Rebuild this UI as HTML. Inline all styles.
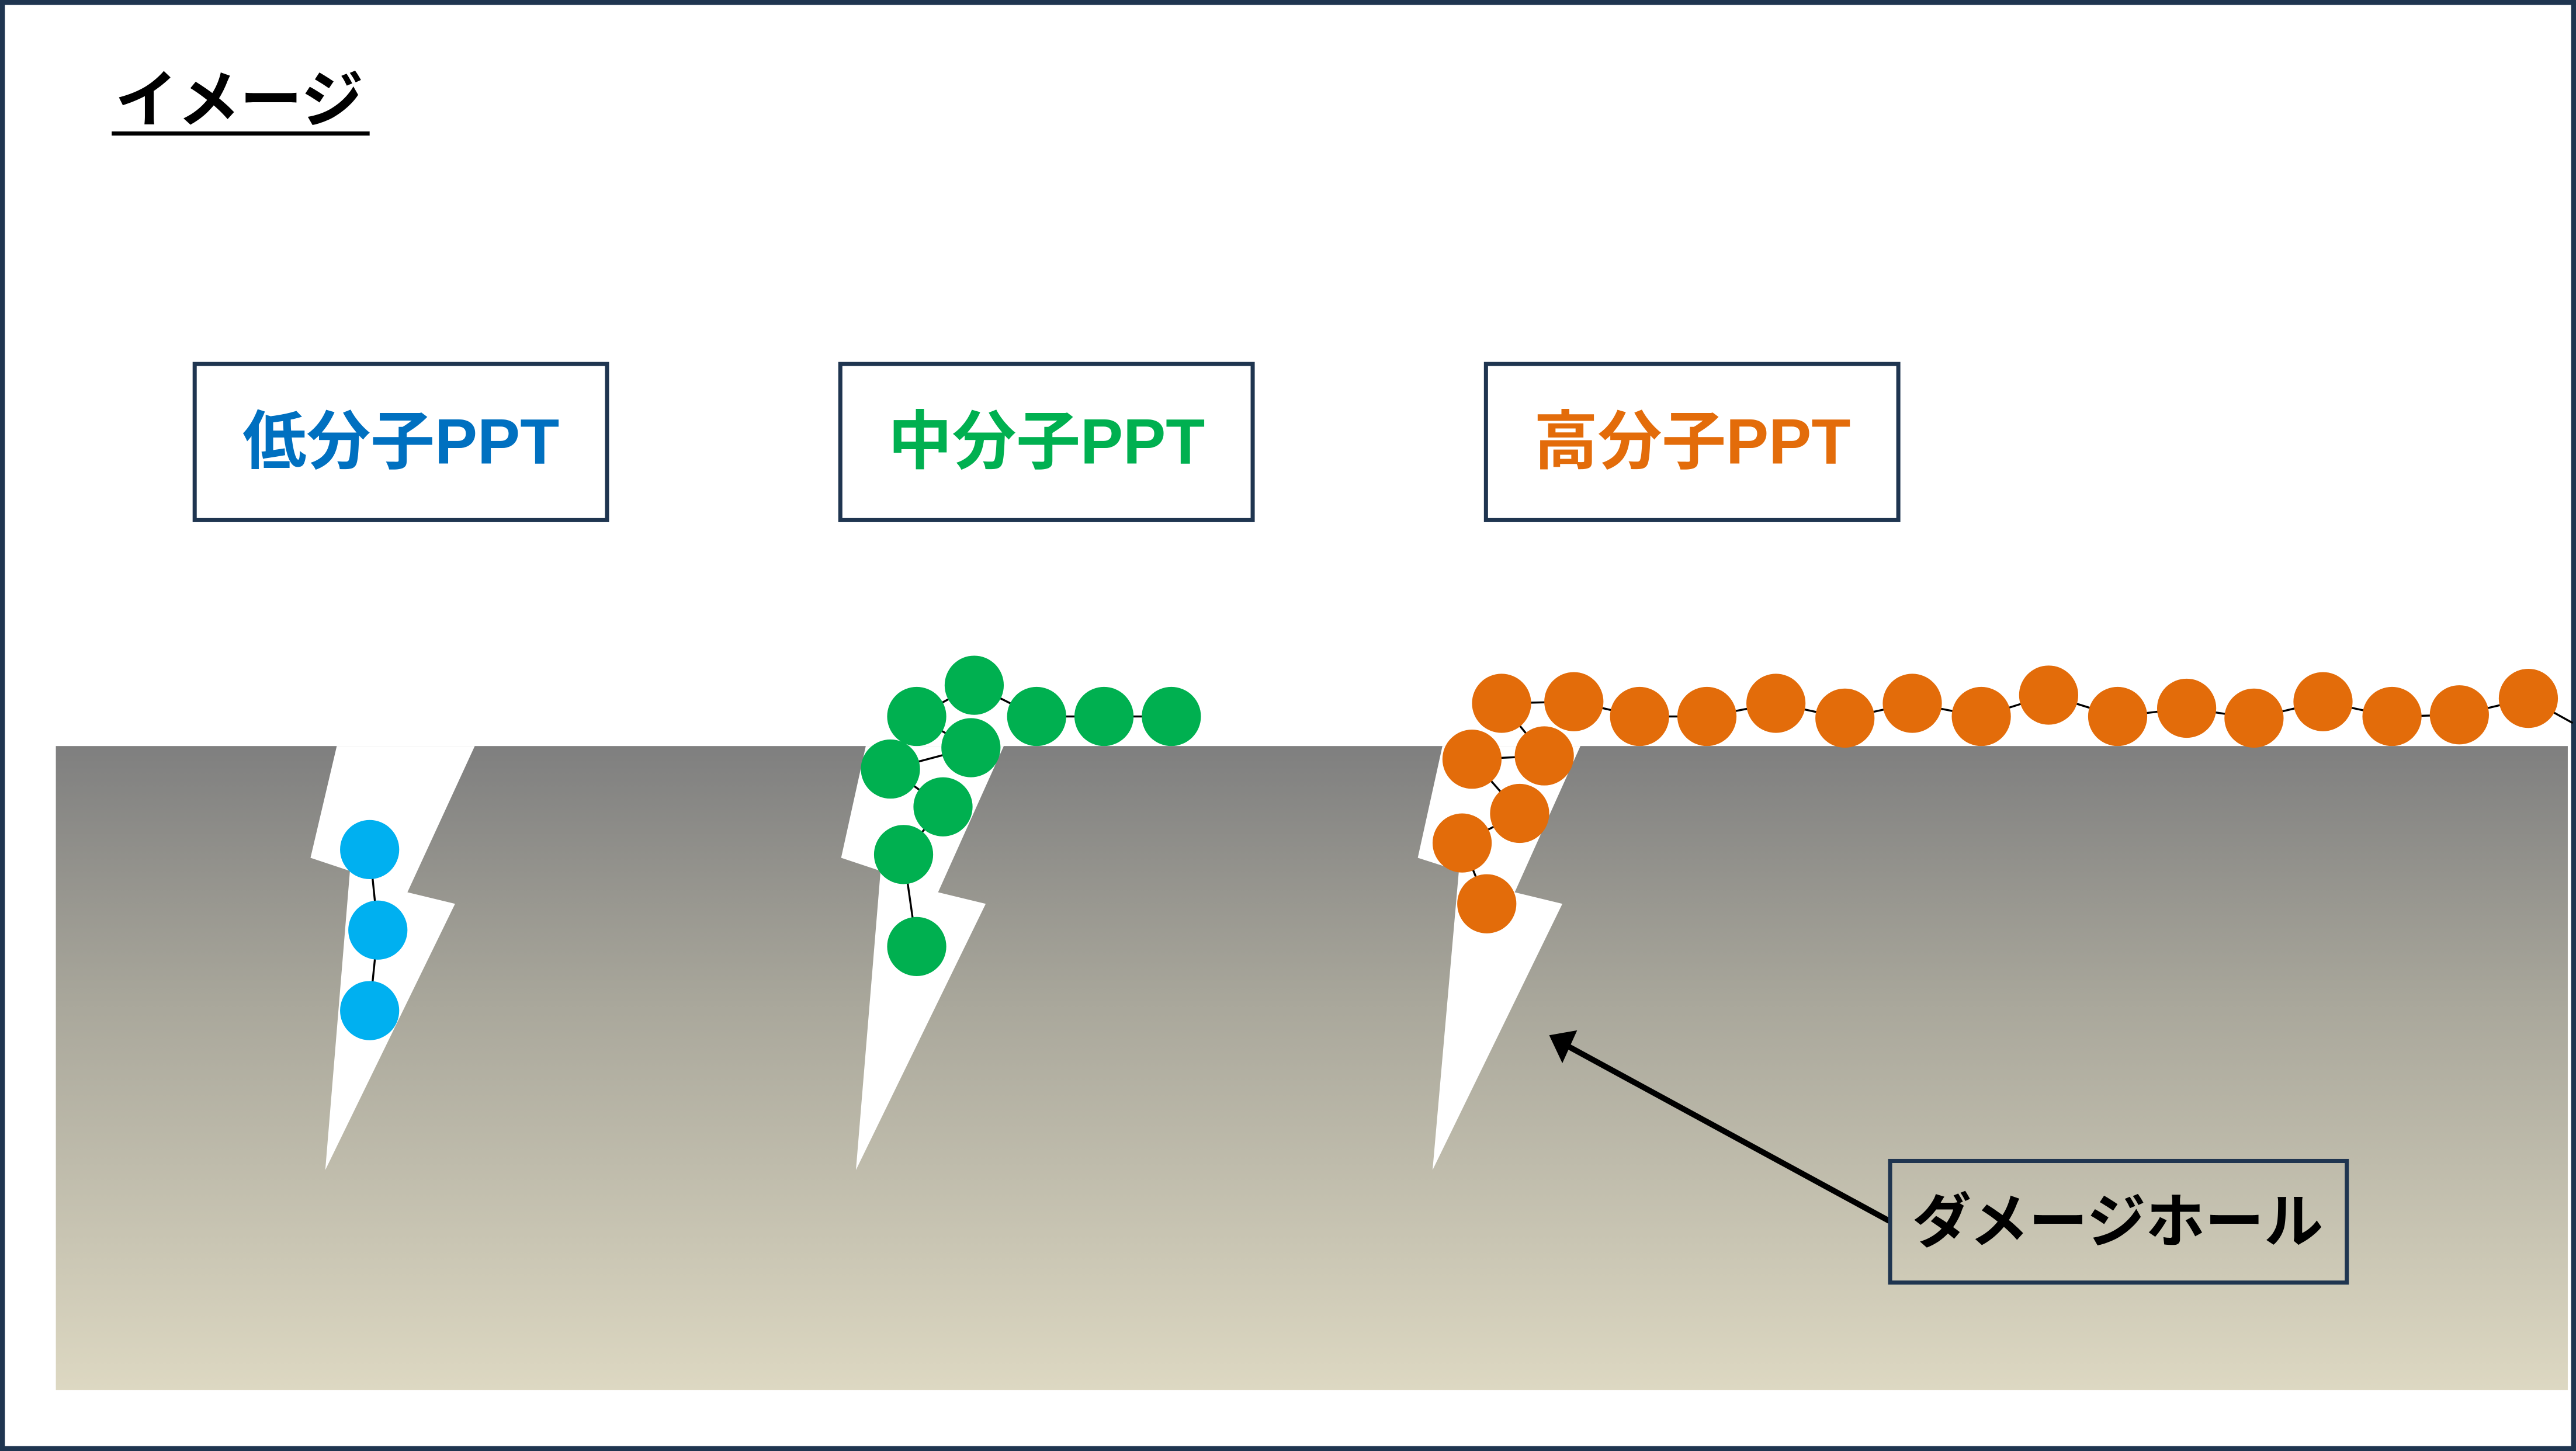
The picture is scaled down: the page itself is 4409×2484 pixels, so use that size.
<!DOCTYPE html>
<html><head><meta charset="utf-8"><style>
html,body{margin:0;padding:0;background:#fff;}
svg{display:block;}
text{font-family:"Liberation Sans","Noto Sans CJK JP",sans-serif;}
</style></head><body>
<svg width="4409" height="2484" viewBox="0 0 1568 883" preserveAspectRatio="none" xmlns="http://www.w3.org/2000/svg">
<defs>
<linearGradient id="g" x1="0" y1="0" x2="0" y2="1">
<stop offset="0" stop-color="#7f7f7f"/>
<stop offset="0.4" stop-color="#a9a79b"/>
<stop offset="1" stop-color="#ddd8c2"/>
</linearGradient>
</defs>
<rect x="0" y="0" width="1568" height="883" fill="#fff"/>
<rect x="1.5" y="1.5" width="1565" height="880" fill="none" stroke="#1f3550" stroke-width="3"/>
<text x="70" y="74" font-size="38" font-weight="bold" fill="#000">イメージ</text>
<rect x="68" y="80" width="157" height="2.5" fill="#000"/>

<rect x="118.5" y="221.5" width="251" height="95" fill="#fff" stroke="#1f3550" stroke-width="2.5"/>
<text x="244" y="282" font-size="39" font-weight="bold" fill="#0070c0" text-anchor="middle">低分子PPT</text>
<rect x="511.5" y="221.5" width="251" height="95" fill="#fff" stroke="#1f3550" stroke-width="2.5"/>
<text x="637" y="282" font-size="39" font-weight="bold" fill="#00b050" text-anchor="middle">中分子PPT</text>
<rect x="904.5" y="221.5" width="251" height="95" fill="#fff" stroke="#1f3550" stroke-width="2.5"/>
<text x="1030" y="282" font-size="39" font-weight="bold" fill="#e36c0a" text-anchor="middle">高分子PPT</text>

<rect x="34" y="454" width="1529" height="392" fill="url(#g)"/>
<polygon points="205,454 289,454 248,543 277,550 198,712 213,530 189,522" fill="#fff"/>
<polygon points="527,454 611,454 571,543 600,550 521,712 536,530 512,522" fill="#fff"/>
<polygon points="878,454 962,454 922,543 951,550 872,712 888,530 863,522" fill="#fff"/>

<g stroke="#000" stroke-width="1.2" fill="none">
<polyline points="225,517 230,566 225,615"/>
<polyline points="713,436 672,436 631,436 593,417 558,436 591,455 542,468 574,491 550,520 558,576"/>
<polyline points="905,550 890,513 925,495 896,462 940,460 914,428 958,427 998,436 1039,436 1081,428 1123,437 1164,428 1206,436 1247,423 1289,436 1331,431 1372,437 1414,427 1456,436 1497,435 1539,425 1566,440"/>
</g>
<g fill="#00b0f0">
<circle cx="225" cy="517" r="18"/><circle cx="230" cy="566" r="18"/><circle cx="225" cy="615" r="18"/>
</g>
<g fill="#00b050">
<circle cx="593" cy="417" r="18"/><circle cx="558" cy="436" r="18"/><circle cx="591" cy="455" r="18"/><circle cx="542" cy="468" r="18"/><circle cx="574" cy="491" r="18"/><circle cx="550" cy="520" r="18"/><circle cx="558" cy="576" r="18"/><circle cx="631" cy="436" r="18"/><circle cx="672" cy="436" r="18"/><circle cx="713" cy="436" r="18"/>
</g>
<g fill="#e36c0a">
<circle cx="914" cy="428" r="18"/><circle cx="958" cy="427" r="18"/><circle cx="896" cy="462" r="18"/><circle cx="940" cy="460" r="18"/><circle cx="925" cy="495" r="18"/><circle cx="890" cy="513" r="18"/><circle cx="905" cy="550" r="18"/>
<circle cx="998" cy="436" r="18"/><circle cx="1039" cy="436" r="18"/><circle cx="1081" cy="428" r="18"/><circle cx="1123" cy="437" r="18"/><circle cx="1164" cy="428" r="18"/><circle cx="1206" cy="436" r="18"/><circle cx="1247" cy="423" r="18"/><circle cx="1289" cy="436" r="18"/><circle cx="1331" cy="431" r="18"/><circle cx="1372" cy="437" r="18"/><circle cx="1414" cy="427" r="18"/><circle cx="1456" cy="436" r="18"/><circle cx="1497" cy="435" r="18"/><circle cx="1539" cy="425" r="18"/>
</g>

<line x1="1150" y1="743" x2="955" y2="637" stroke="#000" stroke-width="3.5"/>
<polygon points="943,630 960,627 951,647" fill="#000"/>

<rect x="1150.5" y="706.5" width="278" height="74" fill="none" stroke="#1f3550" stroke-width="2.5"/>
<text x="1289" y="756" font-size="36" font-weight="bold" fill="#000" text-anchor="middle">ダメージホール</text>
</svg>
</body></html>
